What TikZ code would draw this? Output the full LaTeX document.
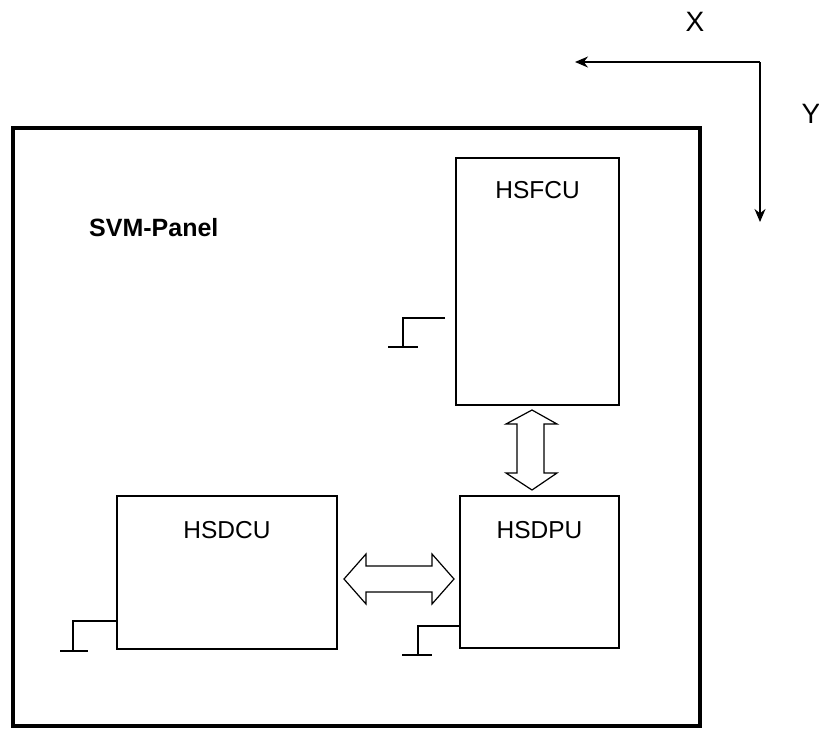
\documentclass[tikz,border=0pt]{standalone}
\usepackage{fontspec}
\setmainfont{Liberation Sans}
\usetikzlibrary{arrows.meta}
\begin{document}
\begin{tikzpicture}[x=1pt,y=-1pt,
  unitbox/.style={draw=black,line width=1.4pt,rectangle,inner sep=0pt,outer sep=0pt},
  lbl/.style={inner sep=0pt,font=\fontsize{24.5}{27}\selectfont},
  axlbl/.style={inner sep=0pt,font=\fontsize{28}{30}\selectfont},
  gnd/.style={draw=black,line width=1.6pt},
  dblarrow/.style={draw=black,line width=1.2pt,line join=miter,fill=white},
  axis/.style={draw=black,line width=1.3pt,-{Stealth[length=13pt,width=11pt]}}]
\useasboundingbox (0,0) rectangle (819,729);
% outer panel
\node[draw=black,line width=4.5pt,rectangle,inner sep=0pt,minimum width=687pt,minimum height=598pt] (panel) at (356.5,427) {};
\node[inner sep=0pt,anchor=west,font=\bfseries\fontsize{25}{28}\selectfont] (paneltxt) at (89,228) {SVM-Panel};
% units
\node[unitbox,minimum width=163pt,minimum height=247pt] (hsfcu) at (537.5,281.5) {};
\node[lbl] (hsfcutxt) at (537.5,190) {HSFCU};
\node[unitbox,minimum width=159pt,minimum height=152pt] (hsdpu) at (539.5,572) {};
\node[lbl] (hsdputxt) at (539.5,530) {HSDPU};
\node[unitbox,minimum width=220pt,minimum height=153pt] (hsdcu) at (227,572.5) {};
\node[lbl] (hsdcutxt) at (227,530) {HSDCU};
% double arrows
\draw[dblarrow] (344,579) -- (366,554) -- (366,566) -- (432,566) -- (432,554) -- (454,579)
  -- (432,604) -- (432,592) -- (366,592) -- (366,604) -- cycle;
\draw[dblarrow] (532,410) -- (557,424) -- (544,424) -- (544,473) -- (557,473) -- (532,490)
  -- (506,473) -- (517,473) -- (517,424) -- (506,424) -- cycle;
% grounds
\coordinate (g1a) at (445,318);
\coordinate (g1b) at (403,318);
\coordinate (g1c) at (403,347);
\draw[gnd] (g1a) -- (g1b) -- (g1c);
\draw[gnd] (388,347) -- (418,347);
\coordinate (g2b) at (73,621);
\coordinate (g2c) at (73,651);
\draw[gnd] (hsdcu.west |- g2b) -- (g2b) -- (g2c);
\draw[gnd] (60,651) -- (88,651);
\coordinate (g3b) at (418,626);
\coordinate (g3c) at (418,655);
\draw[gnd] (hsdpu.west |- g3b) -- (g3b) -- (g3c);
\draw[gnd] (402,655) -- (432,655);
% axes
\coordinate (ax0) at (760,62);
\coordinate (axx) at (575,62);
\coordinate (axy) at (760,222);
\draw[axis] (ax0) -- (axx);
\draw[axis] (ax0) -- (axy);
\node[axlbl] (xl) at (695,22) {X};
\node[axlbl] (yl) at (811,114) {Y};
\end{tikzpicture}
\end{document}
